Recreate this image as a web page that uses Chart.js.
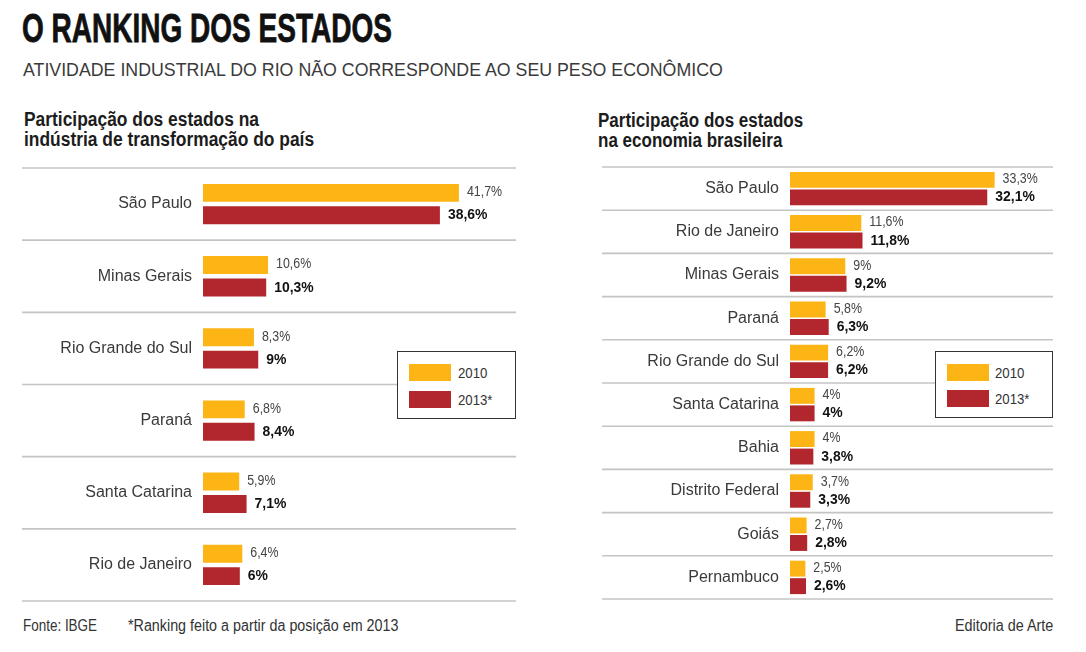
<!DOCTYPE html>
<html>
<head>
<meta charset="utf-8">
<script src="https://cdn.jsdelivr.net/npm/chart.js@4.4.1/dist/chart.umd.min.js"></script>
<style>
html,body{margin:0;padding:0;background:#fff;width:1086px;height:652px;overflow:hidden;font-family:'Liberation Sans',Arial,sans-serif;}
.abs{position:absolute;white-space:nowrap;}
.fit{display:inline-block;transform-origin:0 0;}
#title{left:22px;top:8px;font-size:40.5px;line-height:40px;font-weight:bold;color:#111;-webkit-text-stroke:0.8px #111;}
#subtitle{left:23px;top:60px;font-size:18.5px;line-height:19px;color:#3a3a3a;}
.head{font-size:19.5px;line-height:20px;font-weight:bold;color:#1c1c1c;}
.foot{font-size:16px;line-height:16px;color:#333;}
.legend{position:absolute;box-sizing:border-box;border:1.5px solid #333;background:#fff;}
.sw{position:absolute;height:17px;}
.lt{position:absolute;font-size:15px;line-height:15px;color:#333;white-space:nowrap;transform-origin:0 0;}
canvas{position:absolute;}
</style>
</head>
<body>
<div id="title" class="abs fit">O RANKING DOS ESTADOS</div>
<div id="subtitle" class="abs fit">ATIVIDADE INDUSTRIAL DO RIO NÃO CORRESPONDE AO SEU PESO ECONÔMICO</div>
<div id="h1" class="abs fit head" style="left:24px;top:109px;">Participação dos estados na<br>indústria de transformação do país</div>
<div id="h2" class="abs fit head" style="left:598px;top:110px;">Participação dos estados<br>na economia brasileira</div>

<canvas id="c1" width="494" height="437" style="left:22px;top:166px;"></canvas>
<canvas id="c2" width="451" height="436" style="left:602px;top:165px;"></canvas>

<div id="lg1" class="legend" style="left:397px;top:351px;width:119px;height:68px;"></div>
<div id="lg2" class="legend" style="left:935px;top:351px;width:118px;height:67px;"></div>

<div id="f1" class="abs fit foot" style="left:23px;top:618px;">Fonte: IBGE</div>
<div id="f2" class="abs fit foot" style="left:128px;top:618px;">*Ranking feito a partir da posição em 2013</div>
<div id="f3" class="abs fit foot" style="left:955px;top:618px;">Editoria de Arte</div>

<script>
// ---- DATA ----
const seriesLabels = ['2010', '2013*'];
const seriesColors = ['#FCB514', '#B2262D'];

const industryStates = ['São Paulo', 'Minas Gerais', 'Rio Grande do Sul', 'Paraná', 'Santa Catarina', 'Rio de Janeiro'];
const industry2010 = [41.7, 10.6, 8.3, 6.8, 5.9, 6.4];
const industry2013 = [38.6, 10.3, 9, 8.4, 7.1, 6];

const economyStates = ['São Paulo', 'Rio de Janeiro', 'Minas Gerais', 'Paraná', 'Rio Grande do Sul', 'Santa Catarina', 'Bahia', 'Distrito Federal', 'Goiás', 'Pernambuco'];
const economy2010 = [33.3, 11.6, 9, 5.8, 6.2, 4, 4, 3.7, 2.7, 2.5];
const economy2013 = [32.1, 11.8, 9.2, 6.3, 6.2, 4, 3.8, 3.3, 2.8, 2.6];

// ---- text fitting (layout only) ----
function fitW(id, w){
  const el = document.getElementById(id);
  const cw = el.offsetWidth;
  el.style.transform = 'scaleX(' + (w / cw) + ')';
}
function fitRight(id, right, w){
  const el = document.getElementById(id);
  const cw = el.offsetWidth;
  el.style.left = (right - w) + 'px';
  el.style.transform = 'scaleX(' + (w / cw) + ')';
}

const fmt = v => String(v).replace('.', ',') + '%';

const separators = {
  id: 'separators',
  beforeDatasetsDraw(chart){
    const ys = chart.scales.y;
    const n = chart.data.labels.length;
    const p0 = ys.getPixelForValue(0), p1 = ys.getPixelForValue(1);
    const step = p1 - p0;
    const ctx = chart.ctx;
    ctx.save();
    ctx.strokeStyle = '#c4c4c4';
    ctx.lineWidth = 1.6;
    for (let i = 0; i <= n; i++){
      const y = p0 - step / 2 + i * step;
      ctx.beginPath();
      ctx.moveTo(0, y);
      ctx.lineTo(chart.width, y);
      ctx.stroke();
    }
    ctx.restore();
  }
};

const valueLabels = {
  id: 'valueLabels',
  afterDatasetsDraw(chart){
    const ctx = chart.ctx;
    chart.data.datasets.forEach((ds, d) => {
      const meta = chart.getDatasetMeta(d);
      meta.data.forEach((bar, i) => {
        const txt = fmt(ds.data[i]);
        ctx.save();
        ctx.textBaseline = 'middle';
        ctx.textAlign = 'left';
        if (d === 0){
          ctx.translate(bar.x + 8, bar.y - 1);
          ctx.scale(0.8, 1);
          ctx.font = '15.5px "Liberation Sans", Arial, sans-serif';
          ctx.fillStyle = '#444';
        } else {
          ctx.translate(bar.x + 8, bar.y);
          ctx.scale(0.93, 1);
          ctx.font = 'bold 15px "Liberation Sans", Arial, sans-serif';
          ctx.fillStyle = '#111';
        }
        ctx.fillText(txt, 0, 0);
        ctx.restore();
      });
    });
  }
};

function makeChart(id, cats, a, b, xmax, axisW, catPct, barPct){
  return new Chart(document.getElementById(id), {
    type: 'bar',
    data: {
      labels: cats,
      datasets: [
        {label: seriesLabels[0], data: a, backgroundColor: seriesColors[0], borderWidth: 0},
        {label: seriesLabels[1], data: b, backgroundColor: seriesColors[1], borderWidth: 0}
      ]
    },
    options: {
      indexAxis: 'y',
      responsive: false,
      animation: false,
      layout: {padding: {top: 2, bottom: 2, left: 0, right: 0}},
      datasets: {bar: {categoryPercentage: catPct, barPercentage: barPct}},
      scales: {
        x: {display: false, min: 0, max: xmax},
        y: {
          grid: {display: false, drawTicks: false},
          border: {display: false},
          ticks: {color: '#3a3a3a', font: {family: '"Liberation Sans", Arial, sans-serif', size: 16}, padding: 11},
          afterFit: s => { s.width = axisW; s.paddingTop = 0; s.paddingBottom = 0; }
        }
      },
      plugins: {legend: {display: false}, tooltip: {enabled: false}}
    },
    plugins: [separators, valueLabels]
  });
}

const chart1 = makeChart('c1', industryStates, industry2010, industry2013, 51, 181, 0.62, 0.8);
const chart2 = makeChart('c2', economyStates, economy2010, economy2013, 42.8, 188, 0.81, 0.91);

function buildLegend(id, chart, swLeft, swTops, txtLeft){
  const box = document.getElementById(id);
  chart.data.datasets.forEach((ds, i) => {
    const sw = document.createElement('div');
    sw.className = 'sw';
    sw.style.left = swLeft + 'px';
    sw.style.top = swTops[i] + 'px';
    sw.style.width = '42px';
    sw.style.background = ds.backgroundColor;
    box.appendChild(sw);
    const t = document.createElement('div');
    t.className = 'lt';
    t.textContent = ds.label;
    t.style.left = txtLeft + 'px';
    t.style.top = (swTops[i] + 1) + 'px';
    t.style.transform = 'scaleX(0.88)';
    box.appendChild(t);
  });
}
buildLegend('lg1', chart1, 10.5, [11.5, 38.5], 59.5);
buildLegend('lg2', chart2, 10.5, [11.5, 37.5], 58.5);

fitW('title', 370);
fitW('subtitle', 700);
fitW('h1', 290);
fitW('h2', 205);
fitW('f1', 74);
fitW('f2', 270);
fitRight('f3', 1053, 98);
</script>
</body>
</html>
